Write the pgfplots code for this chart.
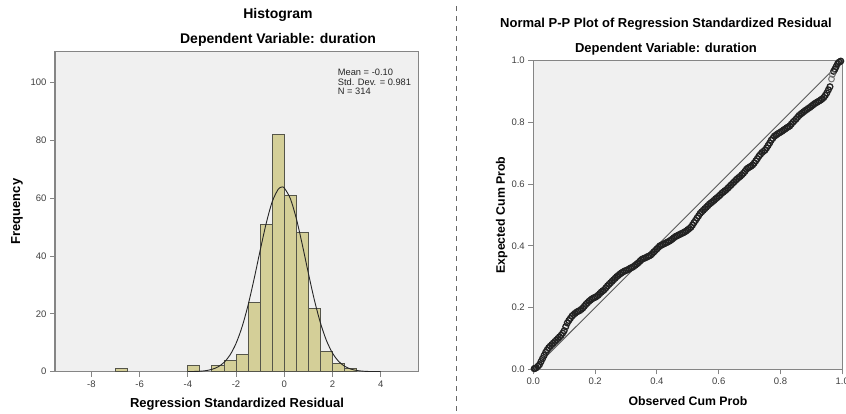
\documentclass[border=0pt]{standalone}
\usepackage{pgfplots}
\pgfplotsset{compat=1.18}
\usepackage{fontspec}
\setmainfont{Liberation Sans}
\definecolor{bg}{HTML}{F0F0F0}
\definecolor{frame}{HTML}{858585}
\definecolor{barfill}{HTML}{D4CF98}
\definecolor{baredge}{HTML}{55554A}
\definecolor{ticktext}{HTML}{404040}
\definecolor{pts}{HTML}{222222}
\begin{document}
\begin{tikzpicture}
\useasboundingbox (0pt,0pt) rectangle (846pt,413pt);
\pgfplotsset{
  spss/.style={
    scale only axis,
    anchor=south west,
    axis background/.style={fill=bg},
    axis line style={frame,line width=1.3pt},
    tick style={frame,line width=1pt},
    tick align=outside,
    tick pos=left,
    major tick length=5pt,
    /pgf/number format/assume math mode=true,
    ticklabel style={font=\fontsize{9.5}{11}\selectfont,text=ticktext},
  }
}
% ---------- Histogram ----------
\begin{axis}[spss,
  at={(55pt,41.3pt)}, width=363.3pt, height=320.4pt,
  xmin=-9.51, xmax=5.56, ymin=0, ymax=110.8,
  xtick={-8,-6,-4,-2,0,2,4}, ytick={0,20,40,60,80,100},
  xticklabel style={yshift=-1pt},
]
\addplot[ybar interval, fill=barfill, draw=baredge, line width=0.9pt] coordinates {
 (-3,2) (-2.5,4) (-2,6) (-1.5,24) (-1,51) (-0.5,82) (0,61) (0.5,48) (1,22) (1.5,7) (2,3) (2.5,1) (3,0)
};
\addplot[ybar interval, fill=barfill, draw=baredge, line width=0.9pt] coordinates {
 (-4,2) (-3.5,2)
};
\addplot[ybar interval, fill=barfill, draw=baredge, line width=0.9pt] coordinates {
 (-7,1) (-6.5,1)
};
\addplot[smooth, black!85, line width=0.9pt] coordinates {
 (-4,0.02) (-3.5,0.16) (-3.25,0.37) (-3,0.81) (-2.75,1.66) (-2.5,3.20) (-2.25,5.78)
 (-2,9.79) (-1.75,15.52) (-1.5,23.06) (-1.25,32.12) (-1,41.92) (-0.75,51.27)
 (-0.5,58.76) (-0.25,63.11) (-0.1,63.85) (0,63.52) (0.25,59.91) (0.5,52.96)
 (0.75,43.87) (1,34.05) (1.25,24.77) (1.5,16.89) (1.75,10.79) (2,6.46)
 (2.25,3.62) (2.5,1.91) (2.75,0.94) (3,0.43) (3.25,0.19) (3.5,0.08) (4,0.01)
};
\end{axis}
% ---------- P-P plot ----------
\begin{axis}[spss,
  at={(533.3pt,43.7pt)}, width=309pt, height=308.8pt,
  xmin=0, xmax=1, ymin=0, ymax=1,
  xtick={0,0.2,0.4,0.6,0.8,1}, ytick={0,0.2,0.4,0.6,0.8,1},
  xticklabel style={/pgf/number format/.cd,fixed,fixed zerofill,precision=1},
  yticklabel style={/pgf/number format/.cd,fixed,fixed zerofill,precision=1},
  clip=false,
]
\addplot[black!65, line width=0.9pt] coordinates {(0,0) (1,1)};
\addplot[only marks, mark=o, mark size=2.9pt, mark options={draw=pts, line width=1.3pt}] table {
x y
0.003 0.002
0.005 0.003
0.01 0.005
0.015 0.01
0.02 0.015
0.025 0.025
0.03 0.035
0.035 0.045
0.04 0.055
0.045 0.063
0.05 0.07
0.055 0.075
0.06 0.08
0.065 0.085
0.07 0.09
0.075 0.095
0.08 0.10
0.085 0.105
0.09 0.11
0.095 0.117
0.10 0.125
0.105 0.138
0.11 0.15
0.115 0.158
0.12 0.165
0.125 0.172
0.13 0.177
0.135 0.181
0.14 0.185
0.145 0.188
0.15 0.19
0.155 0.194
0.16 0.198
0.165 0.204
0.17 0.21
0.175 0.215
0.18 0.22
0.185 0.224
0.19 0.228
0.195 0.231
0.20 0.233
0.205 0.236
0.21 0.24
0.215 0.245
0.22 0.25
0.225 0.254
0.23 0.258
0.235 0.264
0.24 0.27
0.245 0.275
0.25 0.28
0.255 0.285
0.26 0.29
0.265 0.295
0.27 0.30
0.275 0.304
0.28 0.308
0.285 0.312
0.29 0.315
0.295 0.318
0.30 0.32
0.305 0.322
0.31 0.325
0.315 0.328
0.32 0.33
0.325 0.333
0.33 0.337
0.335 0.341
0.34 0.345
0.345 0.35
0.35 0.355
0.355 0.358
0.36 0.36
0.365 0.362
0.37 0.365
0.375 0.367
0.38 0.37
0.385 0.375
0.39 0.38
0.395 0.385
0.40 0.39
0.405 0.395
0.41 0.40
0.415 0.402
0.42 0.405
0.425 0.407
0.43 0.41
0.435 0.412
0.44 0.415
0.445 0.418
0.45 0.422
0.455 0.426
0.46 0.43
0.465 0.432
0.47 0.435
0.475 0.437
0.48 0.44
0.485 0.442
0.49 0.445
0.495 0.448
0.50 0.452
0.505 0.456
0.51 0.46
0.515 0.467
0.52 0.475
0.525 0.482
0.53 0.49
0.535 0.497
0.54 0.505
0.545 0.51
0.55 0.515
0.555 0.52
0.56 0.525
0.565 0.53
0.57 0.535
0.575 0.539
0.58 0.543
0.585 0.547
0.59 0.552
0.595 0.556
0.60 0.56
0.605 0.565
0.61 0.57
0.615 0.574
0.62 0.578
0.625 0.582
0.63 0.587
0.635 0.592
0.64 0.597
0.645 0.602
0.65 0.607
0.655 0.612
0.66 0.617
0.665 0.621
0.67 0.625
0.675 0.63
0.68 0.635
0.685 0.641
0.69 0.648
0.695 0.652
0.70 0.655
0.705 0.658
0.71 0.662
0.715 0.668
0.72 0.675
0.725 0.682
0.73 0.69
0.735 0.696
0.74 0.702
0.745 0.706
0.75 0.71
0.755 0.717
0.76 0.725
0.765 0.733
0.77 0.742
0.775 0.748
0.78 0.755
0.785 0.758
0.79 0.762
0.795 0.765
0.80 0.768
0.805 0.771
0.81 0.775
0.815 0.778
0.82 0.782
0.825 0.785
0.83 0.788
0.835 0.794
0.84 0.80
0.845 0.805
0.85 0.81
0.855 0.816
0.86 0.822
0.865 0.826
0.87 0.83
0.875 0.834
0.88 0.838
0.885 0.841
0.89 0.845
0.895 0.848
0.90 0.852
0.905 0.856
0.91 0.86
0.915 0.863
0.92 0.866
0.925 0.869
0.93 0.872
0.935 0.876
0.94 0.88
0.945 0.887
0.95 0.895
0.955 0.905
0.96 0.915
0.972 0.965
0.976 0.972
0.98 0.98
0.985 0.99
0.99 0.995
0.995 0.998
};
\addplot[only marks, mark=o, mark size=2.9pt, mark options={draw=black!55, line width=1pt}] table {
x y
0.965 0.94
0.968 0.955
};
\end{axis}
% ---------- texts ----------
\node[font=\fontsize{14}{16}\selectfont\bfseries] at (278pt,398pt) {Histogram};
\node[font=\fontsize{14}{16}\selectfont\bfseries] at (278pt,373pt) {Dependent Variable: duration};
\node[font=\fontsize{13}{15}\selectfont\bfseries, rotate=90] at (17pt,201.5pt) {Frequency};
\node[font=\fontsize{13}{15}\selectfont\bfseries] at (237pt,9pt) {Regression Standardized Residual};
\node[font=\fontsize{9.3}{9.4}\selectfont, anchor=north west, align=left, inner sep=0pt, text=black!85] at (337.7pt,344pt) {Mean = -0.10\\Std. Dev. = 0.981\\N = 314};
\node[font=\fontsize{13}{15}\selectfont\bfseries] at (666pt,389pt) {Normal P-P Plot of Regression Standardized Residual};
\node[font=\fontsize{13}{15}\selectfont\bfseries] at (666pt,363.7pt) {Dependent Variable: duration};
\node[font=\fontsize{12.3}{14}\selectfont\bfseries, rotate=90] at (501.7pt,198pt) {Expected Cum Prob};
\node[font=\fontsize{12.3}{14}\selectfont\bfseries] at (688pt,12.3pt) {Observed Cum Prob};
\draw[black!60, line width=1.3pt, dash pattern=on 5pt off 5pt] (456.7pt,407pt) -- (456.7pt,0pt);
\end{tikzpicture}
\end{document}
